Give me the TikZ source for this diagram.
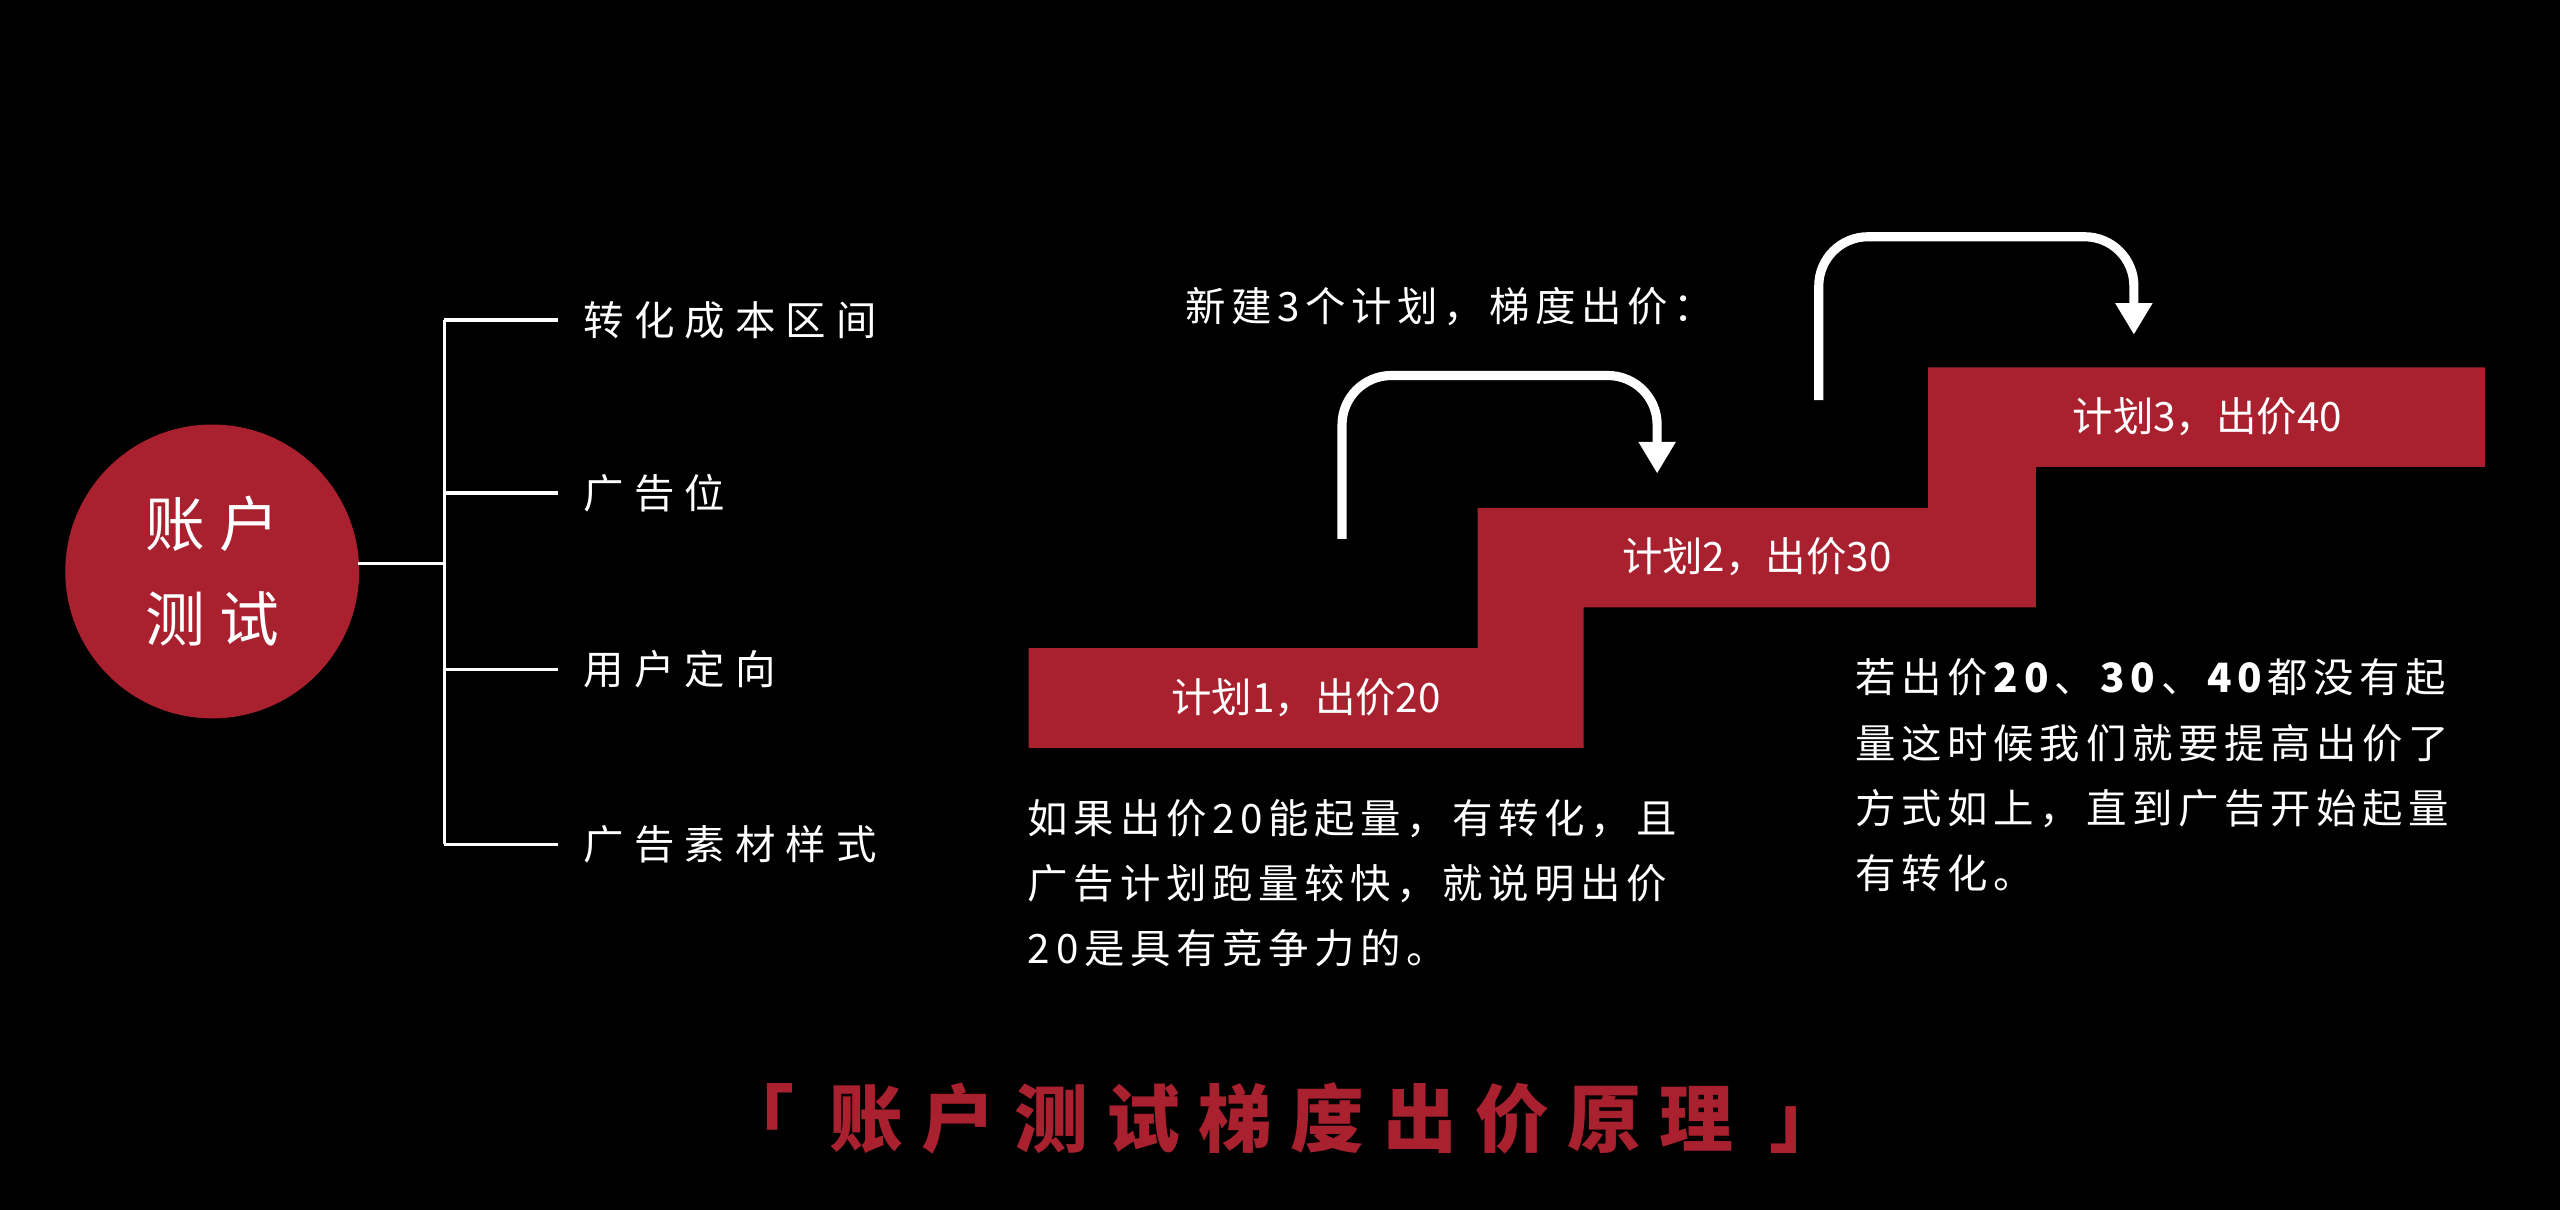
\documentclass[tikz,border=0pt]{standalone}
\usepackage{fontspec}
\setmainfont{Noto Sans CJK SC}
\newfontfamily\spaced[LetterSpace=25]{Noto Sans CJK SC}
\newfontfamily\wide[LetterSpace=14]{Noto Sans CJK SC}
\usetikzlibrary{arrows.meta}
\definecolor{stepred}{HTML}{A9212F}
\tikzset{
  branch/.style={white, line width=0.9pt},
  item/.style={anchor=west, text=white, font=\spaced\fontsize{11.5}{14}\selectfont},
  steplabel/.style={text=white, font=\fontsize{11.5}{14}\selectfont},
  note/.style={anchor=north west, text=white, align=left, font=\wide\fontsize{11.5}{18.5}\selectfont},
  jump/.style={white, line width=2.6pt, rounded corners=14pt, -{Triangle[length=9pt,width=10pt]}},
}
\begin{document}
\begin{tikzpicture}[x=0.016327cm,y=-0.016327cm]
\fill[black] (0,0) rectangle (1568,741);
% LEFT: account test tree
\node[circle, fill=stepred, minimum size=180*0.016327cm, inner sep=0, text=white, align=center,
  font=\spaced\fontsize{17}{27}\selectfont] (acc) at (130,350) {账户\\测试};
\coordinate (root) at (272,345);
\draw[branch] (acc.east |- root) ++(-1,0) -- (root);
\draw[branch] (272,196) -- (272,517);
\foreach \y/\t [count=\i] in {196/转化成本区间, 302/广告位, 410/用户定向, 517/广告素材样式}{
  \coordinate (b\i) at (272,\y);
  \node[item] (it\i) at (350,\y) {\t};
  \draw[branch] (b\i) -- (342,\y);
}
% CENTER: stair of plans
\fill[stepred] (630,397) -- (905,397) -- (905,311) -- (1181,311) -- (1181,225) -- (1522,225)
  -- (1522,286) -- (1247,286) -- (1247,372) -- (970,372) -- (970,458) -- (630,458) -- cycle;
\node[steplabel] (p1) at (800,427) {计划1，出价20};
\node[steplabel] (p2) at (1076,341) {计划2，出价30};
\node[steplabel] (p3) at (1352,255) {计划3，出价40};
\node[text=white, font=\wide\fontsize{11.5}{14}\selectfont] (head) at (888,188) {新建3个计划，梯度出价：};
% jumps between plans
\draw[jump] (822,330) -- (822,230) -- (1015,230) -- (1015,290);
\draw[jump] (1114,245) -- (1114,145) -- (1307,145) -- (1307,205);
% notes
\node[note] (n1) at (622,482) {如果出价20能起量，有转化，且\\广告计划跑量较快，就说明出价\\20是具有竞争力的。};
\node[note] (n2) at (1129,396) {若出价\textbf{20}、\textbf{30}、\textbf{40}都没有起\\量这时候我们就要提高出价了\\方式如上，直到广告开始起量\\有转化。};
% title
\node[text=stepred, font=\spaced\bfseries\fontsize{21}{26}\selectfont] (title) at (785,685) {「 账户测试梯度出价原理 」};
\end{tikzpicture}
\end{document}
